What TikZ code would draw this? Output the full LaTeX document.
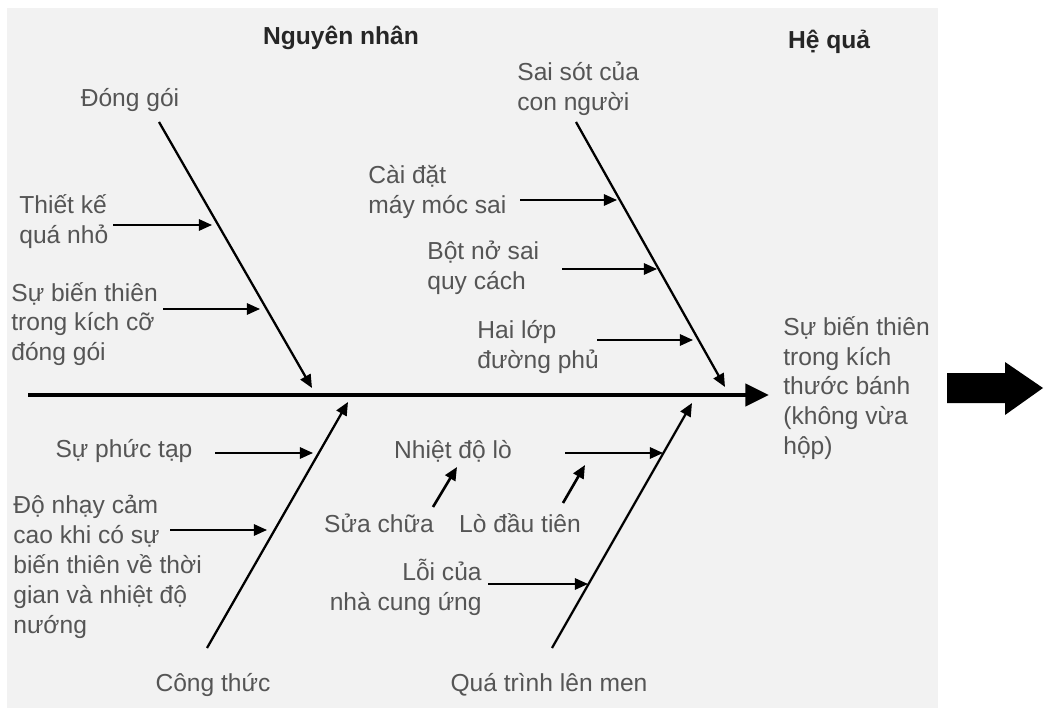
\documentclass[tikz,border=0pt]{standalone}
\usepackage{fontspec}
\setmainfont{Liberation Sans}
\usetikzlibrary{arrows.meta}
\definecolor{bggray}{RGB}{242,242,242}
\definecolor{txtgray}{RGB}{85,85,85}

\begin{document}
\begin{tikzpicture}[
    x=0.02cm, y=-0.02cm,
    font=\fontsize{14}{17}\selectfont,
    lbl/.style={text=txtgray, align=left, inner sep=0pt},
    heading/.style={font=\fontsize{14}{17}\selectfont\bfseries, text=black!85, inner sep=0pt},
    bone/.style={draw, line width=1.3pt, -{Triangle[length=7.5pt,width=6.5pt]}},
    cause/.style={draw, line width=1.1pt, -{Triangle[length=7.5pt,width=6.5pt]}},
    spine/.style={draw, line width=2.8pt, -{Triangle[length=13.5pt,width=12.5pt]}}
]
    \useasboundingbox (0,0) rectangle (1046,713);
    \fill[bggray] (7,8) rectangle (938,708);

    % Tieu de
    \node[heading] (nn) at (341,38) {Nguyên nhân};
    \node[heading] (hq) at (829,42) {Hệ quả};

    % Xuong chinh
    \coordinate (spine-s) at (28,395);
    \coordinate (spine-e) at (769,395);
    \draw[spine] (spine-s) -- (spine-e);

    % Xuong nhanh
    \foreach \name/\xa/\ya/\xb/\yb in {dg/159/122/312/388, ss/576/122/725/387,
                                      ct/207/648/348/402, qt/552/648/692/403} {
        \coordinate (\name-s) at (\xa,\ya);
        \coordinate (\name-e) at (\xb,\yb);
        \draw[bone] (\name-s) -- (\name-e);
    }

    % Nguyen nhan nho
    \foreach \name/\xa/\xb/\y in {tk/113/212/225, sbt/163/260/309, cd/520/617/200,
                                 bn/562/657/269, hl/597/693/340, pt/215/313/453,
                                 dn/170/267/530, nd/565/663/453, lc/488/588/584} {
        \coordinate (\name-s) at (\xa,\y);
        \coordinate (\name-e) at (\xb,\y);
        \draw[cause] (\name-s) -- (\name-e);
    }
    \coordinate (sc-s) at (433,507);
    \coordinate (sc-e) at (457,467);
    \draw[cause, line width=1.5pt] (sc-s) -- (sc-e);
    \coordinate (ld-s) at (563,503);
    \coordinate (ld-e) at (585,465);
    \draw[cause, line width=1.5pt] (ld-s) -- (ld-e);

    % Nhan
    \node[lbl] (dg) at (130,100) {Đóng gói};
    \node[lbl, anchor=west] (tk) at (19,222) {Thiết kế\\quá nhỏ};
    \node[lbl, anchor=west] (sbt) at (11,324) {Sự biến thiên\\trong kích cỡ\\đóng gói};
    \node[lbl, anchor=west] (ss) at (517,89) {Sai sót của\\con người};
    \node[lbl, anchor=west] (cd) at (368,192) {Cài đặt\\máy móc sai};
    \node[lbl, anchor=west] (bn) at (427,268) {Bột nở sai\\quy cách};
    \node[lbl, anchor=west] (hl) at (477,347) {Hai lớp\\đường phủ};
    \node[lbl, anchor=west] (kq) at (783,388) {Sự biến thiên\\trong kích\\thước bánh\\(không vừa\\hộp)};
    \node[lbl] (pt) at (124,451) {Sự phức tạp};
    \node[lbl, anchor=west] (dn) at (13,567) {Độ nhạy cảm\\cao khi có sự\\biến thiên về thời\\gian và nhiệt độ\\nướng};
    \node[lbl] (nd) at (453,451) {Nhiệt độ lò};
    \node[lbl] (sc) at (379,523) {Sửa chữa};
    \node[lbl] (ld) at (520,523) {Lò đầu tiên};
    \node[lbl, align=right, anchor=east] (lc) at (482,587) {Lỗi của\\nhà cung ứng};
    \node[lbl] (ct) at (213,685) {Công thức};
    \node[lbl] (qt) at (549,685) {Quá trình lên men};

    % Mui ten lon
    \fill (947,373) -- (1005,373) -- (1005,362) -- (1043,388)
        -- (1005,415) -- (1005,403) -- (947,403) -- cycle;
\end{tikzpicture}
\end{document}
